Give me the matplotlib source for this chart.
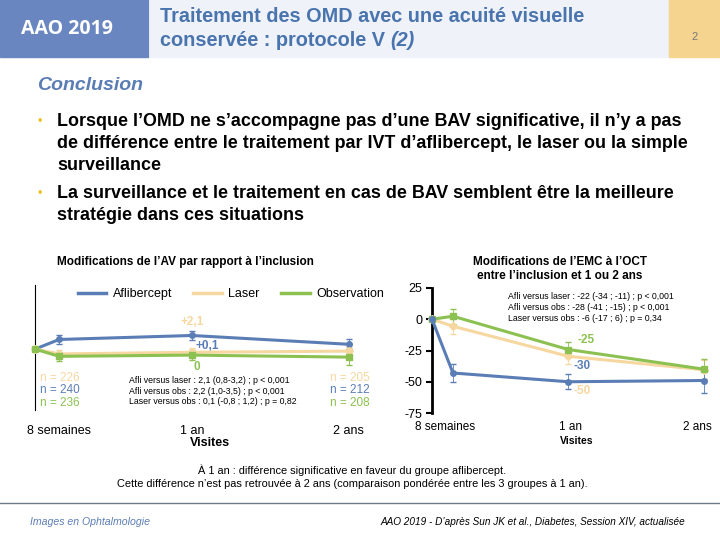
import matplotlib
matplotlib.use("Agg")
import matplotlib.pyplot as plt
from matplotlib.patches import Rectangle
from matplotlib.lines import Line2D

plt.rcParams['font.family'] = ['Liberation Sans', 'DejaVu Sans']

# Données
visites = [0, 8 / 52, 1, 2]                 # en années (inclusion, 8 sem, 1 an, 2 ans)
tick_pos = [8 / 52, 1, 2]
tick_labels = ["8 semaines", "1 an", "2 ans"]

# AV (lettres) par rapport à l'inclusion
av_afli = [0, 1.2, 1.7, 0.6]
av_laser = [0, -0.6, -0.4, -0.25]
av_obs = [0, -0.9, -0.75, -1.0]
av_err_afli = [0, 0.6, 0.6, 0.6]
av_err_laser = [0, 0.5, 0.6, 0.5]
av_err_obs = [0, 0.6, 0.6, 1.0]

# EMC (µm) à l'OCT
emc_afli = [0, -43, -50, -49]
emc_laser = [0, -5.6, -29.6, -40.5]
emc_obs = [0, 2.4, -24.2, -40]
emc_err_afli = [0, 7, 6, 10]
emc_err_laser = [0, 6, 6, 8]
emc_err_obs = [0, 6, 6, 8]

emc_yticks = [25, 0, -25, -50, -75]

C_AFLI = "#5b7db6"
C_LASER = "#f6d7a0"
C_OBS = "#8cc152"
C_TITRE = "#4a74ae"

W, H = 720, 540
fig = plt.figure(figsize=(7.2, 5.4), dpi=100)


def px(x, y):
    return x / W, 1 - y / H


def ax_px(x0, y0, x1, y1):
    return fig.add_axes([x0 / W, 1 - y1 / H, (x1 - x0) / W, (y1 - y0) / H])


# -------- En-tête
fig.patches.append(Rectangle(px(0, 57), 148 / W, 57 / H, transform=fig.transFigure,
                             color="#6a86c0", zorder=0))
fig.patches.append(Rectangle(px(150, 57), 518 / W, 57 / H, transform=fig.transFigure,
                             color="#eff2f9", zorder=0))
fig.patches.append(Rectangle(px(669, 57), 51 / W, 57 / H, transform=fig.transFigure,
                             color="#f5d48f", zorder=0))
fig.text(*px(67, 29), "AAO 2019", color="white", fontsize=14, fontweight="bold",
         ha="center", va="center", family=["Open Sans", "DejaVu Sans"])
fig.text(*px(160, 17), "Traitement des OMD avec une acuité visuelle", color=C_TITRE,
         fontsize=14.3, fontweight="bold", ha="left", va="center")
t2 = fig.text(*px(160, 40), "conservée : protocole V ", color=C_TITRE,
              fontsize=14.3, fontweight="bold", ha="left", va="center")
rend = fig.canvas.get_renderer()
x_fin = t2.get_window_extent(rend).x1 / W
fig.text(x_fin, 1 - 40 / H, "(2)", color=C_TITRE, fontsize=14.3, fontweight="bold",
         ha="left", va="center", style="italic")
fig.text(*px(695, 37), "2", color="#777777", fontsize=8, ha="center", va="center")

# -------- Conclusion
fig.text(*px(37, 86), "Conclusion", color="#5b7db5", fontsize=14, style="italic",
         fontweight="bold", ha="left", va="center")

puces = [
    (122, ["Lorsque l’OMD ne s’accompagne pas d’une BAV significative, il n’y a pas",
           "de différence entre le traitement par IVT d’aflibercept, le laser ou la simple",
           "surveillance"]),
    (194, ["La surveillance et le traitement en cas de BAV semblent être la meilleure",
           "stratégie dans ces situations"]),
]
for y0, lignes in puces:
    fig.text(*px(40, y0), "•", color="#f0c020", fontsize=9, ha="center", va="center")
    for i, ligne in enumerate(lignes):
        fig.text(*px(57, y0 + i * 21.7), ligne, color="black", fontsize=12.9,
                 fontweight="bold", ha="left", va="center")

# -------- Graphique AV
ax1 = ax_px(35, 285, 385, 410)
ax1.set_xlim(0, 2.23)
ax1.set_ylim(-7.6, 8)
poignees = []
for serie, err, c, m, nom in [(av_afli, av_err_afli, C_AFLI, "o", "Aflibercept"),
                              (av_laser, av_err_laser, C_LASER, "D", "Laser"),
                              (av_obs, av_err_obs, C_OBS, "s", "Observation")]:
    ax1.errorbar(visites, serie, yerr=err, color=c, marker=m, markersize=4, lw=2.2,
                 capsize=2, elinewidth=0.7, clip_on=False, zorder=3)
    poignees.append(Line2D([], [], color=c, lw=2.5, label=nom))
for s in ["top", "right", "bottom"]:
    ax1.spines[s].set_visible(False)
ax1.spines["left"].set_color("black")
ax1.set_yticks([])
ax1.set_xticks(tick_pos)
ax1.set_xticklabels(tick_labels, fontsize=9)
ax1.tick_params(axis="x", length=0, pad=11)
ax1.set_xlabel("Visites", fontsize=9, fontweight="bold", labelpad=0)
ax1.legend(handles=poignees, loc="center left", bbox_to_anchor=(0.122, 0.928), ncol=3,
           frameon=False, fontsize=9, handlelength=2.3, columnspacing=1.7,
           handletextpad=0.5, borderaxespad=0, borderpad=0)
fig.text(*px(185, 262), "Modifications de l’AV par rapport à l’inclusion", fontsize=8.5,
         fontweight="bold", ha="center", va="center")

ax1.text(1.0, 3.4, "+2,1", color=C_LASER, fontsize=8.5, fontweight="bold", ha="center",
         va="center")
ax1.text(1.02, 0.4, "+0,1", color=C_AFLI, fontsize=8.5, fontweight="bold", ha="left",
         va="center")
ax1.text(1.03, -2.25, "0", color=C_OBS, fontsize=8.5, fontweight="bold", ha="center",
         va="center")
for xn, textes in [(0.03, ["n = 226", "n = 240", "n = 236"]),
                   (1.88, ["n = 205", "n = 212", "n = 208"])]:
    for t, yn, c in zip(textes, [-3.6, -5.1, -6.7], [C_LASER, C_AFLI, C_OBS]):
        ax1.text(xn, yn, t, color=c, fontsize=8.5, ha="left", va="center")
stats_av = ["Afli versus laser : 2,1 (0,8-3,2) ; p < 0,001",
            "Afli versus obs : 2,2 (1,0-3,5) ; p < 0,001",
            "Laser versus obs : 0,1 (-0,8 ; 1,2) ; p = 0,82"]
for t, yn in zip(stats_av, [-3.9, -5.3, -6.6]):
    ax1.text(0.6, yn, t, fontsize=6.3, ha="left", va="center")

# -------- Graphique EMC
ax2 = ax_px(432, 288, 718, 413)
ax2.set_xlim(0, 2.1)
ax2.set_ylim(-75, 25)
for serie, err, c, m in [(emc_laser, emc_err_laser, C_LASER, "D"),
                         (emc_obs, emc_err_obs, C_OBS, "s"),
                         (emc_afli, emc_err_afli, C_AFLI, "o")]:
    ax2.errorbar(visites, serie, yerr=err, color=c, marker=m, markersize=4, lw=2.2,
                 capsize=2, elinewidth=0.6, clip_on=False, zorder=3)
for s in ["top", "right", "bottom"]:
    ax2.spines[s].set_visible(False)
ax2.spines["left"].set_linewidth(2)
ax2.set_yticks(emc_yticks)
ax2.set_yticklabels([str(v) for v in emc_yticks], fontsize=9)
ax2.tick_params(axis="y", length=4, width=1.5, pad=3)
ax2.set_xticks([0.096, 1.015, 1.95])
ax2.set_xticklabels(tick_labels, fontsize=8.5)
ax2.tick_params(axis="x", length=0, pad=6)
ax2.set_xlabel("Visites", fontsize=7.5, fontweight="bold")
ax2.xaxis.set_label_coords((577 - 432) / 286, -23 / 125)
fig.text(*px(560, 262), "Modifications de l’EMC à l’OCT", fontsize=8.5,
         fontweight="bold", ha="center", va="center")
fig.text(*px(560, 276), "entre l’inclusion et 1 ou 2 ans", fontsize=8.5,
         fontweight="bold", ha="center", va="center")
stats_emc = ["Afli versus laser : -22 (-34 ; -11) ; p < 0,001",
             "Afli versus obs : -28 (-41 ; -15) ; p < 0,001",
             "Laser versus obs : -6 (-17 ; 6) ; p = 0,34"]
for t, yn in zip(stats_emc, [18.4, 9.6, 0.8]):
    ax2.text(0.56, yn, t, fontsize=6.3, ha="left", va="center")
ax2.text(1.07, -16.8, "-25", color=C_OBS, fontsize=8.5, fontweight="bold", va="center")
ax2.text(1.04, -37.5, "-30", color=C_AFLI, fontsize=8.5, fontweight="bold", va="center")
ax2.text(1.04, -57.5, "-50", color=C_LASER, fontsize=8.5, fontweight="bold", va="center")

# -------- Bas de page
fig.text(*px(352, 470), "À 1 an : différence significative en faveur du groupe aflibercept.",
         fontsize=7.9, ha="center", va="center")
fig.text(*px(352, 484), "Cette différence n’est pas retrouvée à 2 ans (comparaison pondérée "
         "entre les 3 groupes à 1 an).", fontsize=7.9, ha="center", va="center")
fig.lines.append(Line2D([0, 1], [1 - 503 / H] * 2, transform=fig.transFigure,
                        color="#6d7a88", lw=1))
fig.text(*px(30, 522), "Images en Ophtalmologie", fontsize=7.6, style="italic",
         color="#5b7db5", ha="left", va="center")
fig.text(*px(685, 522), "AAO 2019 - D’après Sun JK et al., Diabetes, Session XIV, actualisée",
         fontsize=7.2, style="italic", ha="right", va="center")

fig.savefig("out.png", dpi=100)
